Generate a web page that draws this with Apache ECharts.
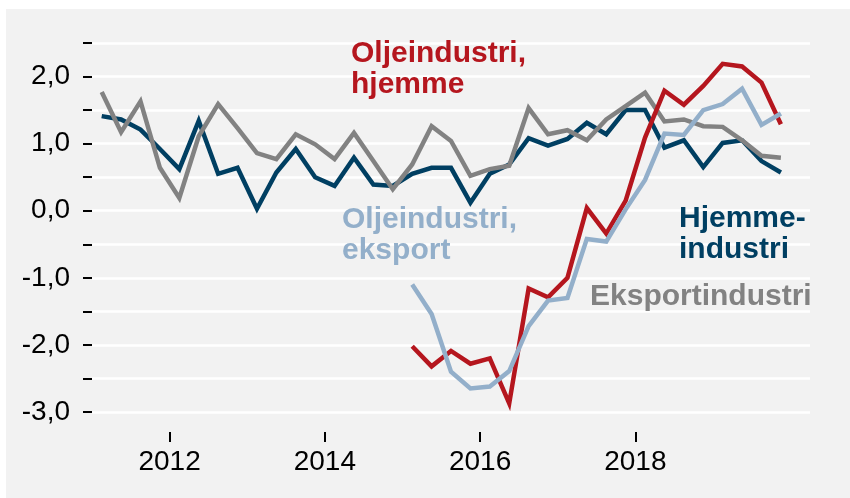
<!DOCTYPE html>
<html lang="no">
<head>
    <meta charset="UTF-8">
    <title>Industri</title>
    <style type="text/css">
        *{
            margin: 0;
            padding: 0;
        }
        body{
            background: #ffffff;
        }
        #main{
            position: absolute;
            left: 6px;
            top: 9px;
            width: 844px;
            height: 489px;
        }
    </style>
</head>
<body>
    <div id="main"></div>
    <script src="https://cdn.jsdelivr.net/npm/echarts@6/dist/echarts.min.js"></script>
    <script type="text/javascript">
        // kvartaler 2011K1 - 2019K4
        var firstYear = 2011;
        var yearTicks = [2012, 2014, 2016, 2018];

        var hjemmeindustri = [1.41, 1.36, 1.21, 0.92, 0.62, 1.34, 0.55, 0.64, 0.03, 0.57, 0.92, 0.50,
            0.37, 0.79, 0.39, 0.37, 0.55, 0.64, 0.64, 0.12, 0.55, 0.69, 1.08, 0.97,
            1.07, 1.31, 1.14, 1.50, 1.50, 0.94, 1.05, 0.65, 1.01, 1.05, 0.74, 0.57];
        var eksportindustri = [1.77, 1.17, 1.63, 0.64, 0.19, 1.11, 1.59, 1.23, 0.86, 0.77, 1.14, 0.99,
            0.77, 1.16, 0.74, 0.32, 0.69, 1.26, 1.04, 0.52, 0.62, 0.67, 1.53, 1.14,
            1.20, 1.05, 1.36, 1.56, 1.76, 1.33, 1.36, 1.26, 1.25, 1.05, 0.82, 0.79];
        // oljeserier starter 2015K1
        var oljeStart = 16;
        var oljeHjemme = [-2.02, -2.32, -2.09, -2.28, -2.20, -2.87, -1.16, -1.29, -1.00, 0.04,
            -0.34, 0.15, 1.09, 1.79, 1.58, 1.86, 2.19, 2.15, 1.91, 1.29];
        var oljeEksport = [-1.10, -1.54, -2.40, -2.65, -2.62, -2.39, -1.72, -1.34, -1.30, -0.42,
            -0.46, 0.02, 0.46, 1.15, 1.13, 1.50, 1.59, 1.82, 1.28, 1.45];

        var labelFont = '"Liberation Sans", Arial, Helvetica, sans-serif';

        // kvartal nr -> midt i kvartalet
        function toPairs(values, start) {
            return values.map(function (v, i) {
                var q = start + i;
                return [firstYear + Math.floor(q / 4) + ((q % 4) + 0.5) / 4, v];
            });
        }

        function lineSeries(name, values, start, color) {
            return {
                name: name,
                type: 'line',
                data: toPairs(values, start),
                symbol: 'none',
                lineStyle: {
                    width: 4.5,
                    color: color,
                    join: 'miter',
                    cap: 'butt'
                },
                silent: true
            };
        }

        function textLabel(x, y, text, color) {
            return {
                type: 'text',
                left: x,
                top: y,
                z: 100,
                style: {
                    text: text,
                    fill: color,
                    font: 'bold 30px ' + labelFont,
                    lineHeight: 31
                }
            };
        }

        var myChart = echarts.init(document.getElementById('main'));
        var option = {
            animation: false,
            backgroundColor: '#f2f2f2',
            textStyle: {
                fontFamily: labelFont
            },
            grid: {
                left: 86,
                right: 40,
                top: 34,
                bottom: 86
            },
            xAxis: {
                type: 'value',
                min: 2011,
                max: 2020.25,
                offset: 20,
                axisLine: {show: false, onZero: false},
                splitLine: {show: false},
                axisTick: {
                    show: true,
                    length: 10,
                    customValues: yearTicks,
                    lineStyle: {color: '#000', width: 2}
                },
                axisLabel: {
                    customValues: yearTicks,
                    color: '#000',
                    fontSize: 28,
                    margin: 16,
                    formatter: function (v) {
                        return String(v);
                    }
                }
            },
            yAxis: {
                type: 'value',
                min: -3,
                max: 2.5,
                interval: 0.5,
                axisLine: {show: false},
                axisTick: {
                    show: true,
                    length: 9,
                    lineStyle: {color: '#000', width: 2}
                },
                axisLabel: {
                    color: '#000',
                    fontSize: 28,
                    margin: 22,
                    formatter: function (v) {
                        if (Math.abs(v - Math.round(v)) > 1e-6) return '';
                        return v.toFixed(1).replace('.', ',');
                    }
                },
                splitLine: {
                    show: true,
                    lineStyle: {color: '#ffffff', width: 2.5}
                }
            },
            series: [
                lineSeries('Hjemmeindustri', hjemmeindustri, 0, '#003f62'),
                lineSeries('Eksportindustri', eksportindustri, 0, '#828282'),
                lineSeries('Oljeindustri, hjemme', oljeHjemme, oljeStart, '#b5161e'),
                lineSeries('Oljeindustri, eksport', oljeEksport, oljeStart, '#93afca')
            ],
            graphic: [
                textLabel(345, 29, 'Oljeindustri,\nhjemme', '#b5161e'),
                textLabel(336, 195, 'Oljeindustri,\neksport', '#93afca'),
                textLabel(673, 194, 'Hjemme-\nindustri', '#003f62'),
                textLabel(584, 272, 'Eksportindustri', '#828282')
            ]
        };
        myChart.setOption(option);
    </script>
</body>
</html>
